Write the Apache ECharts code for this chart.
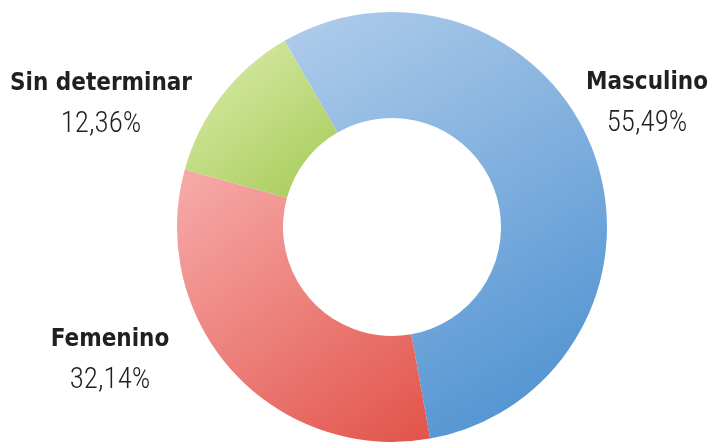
<!DOCTYPE html>
<html><head><meta charset="utf-8">
<script src="https://cdn.jsdelivr.net/npm/echarts@6/dist/echarts.min.js"></script>
<style>html,body{margin:0;padding:0;background:#fff}#c{width:710px;height:443px}</style>
</head><body><div id="c"></div>
<script>
const categories = ['Masculino', 'Femenino', 'Sin determinar'];
const values = [55.49, 32.14, 12.36];
const labelPos = [[647, 65], [110, 322], [101, 66]];
const gradients = [
  ['#aecbea', '#4a8fd0'],
  ['#f6a8a7', '#e2574d'],
  ['#dcebab', '#a6cc58']
];
const chart = echarts.init(document.getElementById('c'));
chart.setOption({
  animation: false,
  series: [{
    type: 'pie',
    center: [392, 227],
    radius: [109, 215],
    startAngle: 120,
    clockwise: true,
    silent: true,
    data: categories.map((n, i) => ({
      name: n, value: values[i],
      itemStyle: {color: new echarts.graphic.LinearGradient(0.1, 0, 0.9, 1, [
        {offset: 0, color: gradients[i][0]}, {offset: 1, color: gradients[i][1]}])}
    })),
    label: {
      show: true,
      overflow: 'none',
      width: 300,
      formatter: p => '{b|' + p.name + '}\n{c|' + p.value.toFixed(2).replace('.', ',') + '%}',
      rich: {
        b: {fontFamily: 'DejaVu Sans Condensed', fontWeight: 'bold', fontSize: 24, color: '#231f20', lineHeight: 36, align: 'center'},
        c: {fontFamily: 'Roboto Condensed, DejaVu Sans Condensed', fontWeight: 300, fontSize: 29, color: '#231f20', lineHeight: 46, align: 'center'}
      },
      align: 'center'
    },
    labelLine: {show: false},
    labelLayout: p => ({x: labelPos[p.dataIndex][0], y: labelPos[p.dataIndex][1], align: 'center', verticalAlign: 'top'})
  }]
});
</script></body></html>
